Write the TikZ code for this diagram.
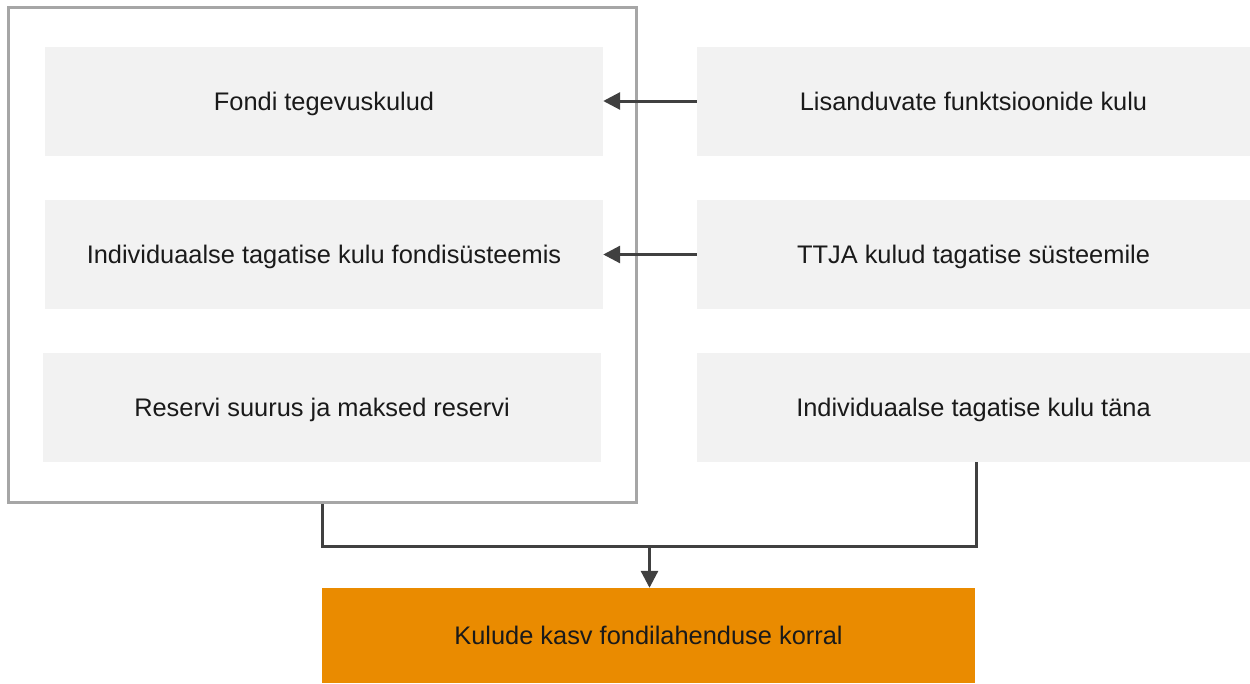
\documentclass[tikz,border=0pt]{standalone}
\usepackage{fontspec}
\setmainfont{Liberation Sans}
\usetikzlibrary{arrows.meta}
\definecolor{boxgray}{HTML}{F2F2F2}
\definecolor{framegray}{HTML}{A6A6A6}
\definecolor{linegray}{HTML}{404040}
\definecolor{orangefill}{HTML}{EA8B00}
\definecolor{txt}{HTML}{1A1A1A}
\begin{document}
\begin{tikzpicture}[x=1pt,y=-1pt,
  box/.style={fill=boxgray,draw=none,inner sep=0pt,minimum width=558pt,minimum height=109pt,
    font=\fontsize{25.4}{30}\selectfont,text=txt,text height=18.2pt,text depth=0pt},
  rbox/.style={box,minimum width=553pt},
  frm/.style={draw=framegray,line width=3pt,inner sep=0pt,minimum width=628pt,minimum height=495pt},
  conn/.style={draw=linegray,line width=3pt},
  arr/.style={conn,-{Triangle[length=17pt,width=17pt]}}]
\useasboundingbox (0,0) rectangle (1250,683);
\node[frm] (frame) at (322.5,255) {};
\node[box] (l1) at (324,101) {Fondi tegevuskulud};
\node[box] (l2) at (324,254.5) {Individuaalse tagatise kulu fondisüsteemis};
\node[box] (l3) at (322,407.5) {Reservi suurus ja maksed reservi};
\node[rbox] (r1) at (973.5,101) {Lisanduvate funktsioonide kulu};
\node[rbox] (r2) at (973.5,254.5) {TTJA kulud tagatise süsteemile};
\node[rbox] (r3) at (973.5,407.5) {Individuaalse tagatise kulu täna};
\node[box,fill=orangefill,minimum width=653pt,minimum height=95pt] (out) at (648.5,635.5) {Kulude kasv fondilahenduse korral};
\coordinate (j) at (649.5,546.5);
\draw[arr] (r1.west) -- (l1.east);
\draw[arr] (r2.west) -- (l2.east);
\draw[conn] ([xshift=315pt]frame.south west) |- (j);
\draw[conn] (j) -| ([xshift=2.5pt]r3.south);
\draw[arr] (j) -- (j |- out.north);
\end{tikzpicture}
\end{document}
